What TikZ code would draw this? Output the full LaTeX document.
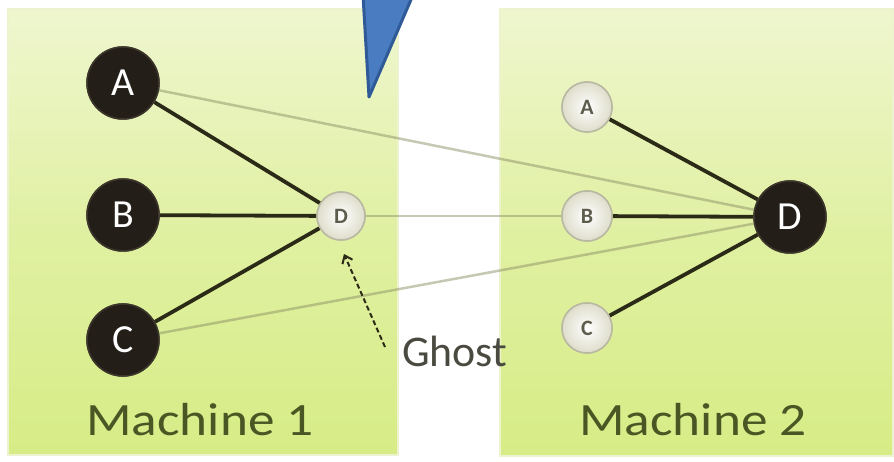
\documentclass[tikz,border=0pt]{standalone}
\usepackage{fontspec}
\setmainfont{Carlito}
\usetikzlibrary{arrows.meta}
\definecolor{boxtop}{HTML}{EFF6CF}
\definecolor{boxmid}{HTML}{E0F0A2}
\definecolor{boxbot}{HTML}{D7EC86}
\definecolor{boxedge}{HTML}{EEF3CF}
\definecolor{nodeblack}{HTML}{231E18}
\definecolor{nodeedge}{HTML}{3C362B}
\definecolor{darkline}{HTML}{2B2A17}
\definecolor{lightline}{HTML}{8E9268}
\definecolor{ghostedge}{HTML}{B9B8A2}
\definecolor{ghostfill}{HTML}{DEDDCB}
\definecolor{ghosttext}{HTML}{5E5C4C}
\definecolor{labeltext}{HTML}{4A5724}
\definecolor{ghostlabel}{HTML}{4A4A40}
\definecolor{triblue}{HTML}{4A7CC2}
\definecolor{triedge}{HTML}{2F5A97}
\tikzset{
  machinebox/.style={draw=boxedge, line width=2bp, top color=boxtop, bottom color=boxbot, middle color=boxmid},
  bignode/.style={circle, minimum size=72bp, inner sep=0pt, fill=nodeblack, draw=nodeedge, line width=1.5bp,
    text=white, font=\fontsize{40}{44}\selectfont},
  ghostnode/.style={circle, minimum size=48bp, inner sep=0pt, inner color=white, outer color=ghostfill,
    draw=ghostedge, line width=1.5bp, text=ghosttext, font=\fontsize{22}{24}\selectfont\bfseries},
  smallnode/.style={ghostnode, minimum size=50bp},
  strong/.style={draw=darkline, line width=3.8bp},
  weak/.style={draw=lightline, line width=2.5bp, draw opacity=0.5},
  machinelabel/.style={text=labeltext, font=\fontsize{46.5}{50}\selectfont, anchor=base, inner sep=0pt},
}
\begin{document}
\begin{tikzpicture}[x=1bp, y=-1bp]
\useasboundingbox (0,0) rectangle (894,462);
\clip (0,0) rectangle (894,462);
\fill[white] (0,0) rectangle (894,462);
% machine boxes
\path[machinebox] (8,9) rectangle (398,455);
\path[machinebox] (500,9) rectangle (893,456);
% nodes (positions)
\node[bignode] (a1) at (123,83) {A};
\node[bignode] (b1) at (123,215) {B};
\node[bignode] (c1) at (123,340) {C};
\node[ghostnode] (d1) at (341,216) {D};
\node[smallnode] (a2) at (587,107) {A};
\node[smallnode] (b2) at (587,216) {B};
\node[smallnode] (c2) at (587,328) {C};
\node[bignode] (d2) at (790,217) {D};
% cross-machine (weak) edges
\draw[weak] (a1) -- (d2);
\draw[weak] (d1) -- (b2);
\draw[weak] (c1) -- (d2);
% local (strong) edges
\draw[strong] (a1) -- (d1);
\draw[strong] (b1) -- (d1);
\draw[strong] (c1) -- (d1);
\draw[strong] (a2) -- (d2);
\draw[strong] (b2) -- (d2);
\draw[strong] (c2) -- (d2);
% redraw nodes on top of edges
\node[bignode] at (a1) {A};
\node[bignode] at (b1) {B};
\node[bignode] at (c1) {C};
\node[ghostnode] at (d1) {D};
\node[smallnode] at (a2) {A};
\node[smallnode] at (b2) {B};
\node[smallnode] at (c2) {C};
\node[bignode] at (d2) {D};
% ghost label and arrow
\node[text=ghostlabel, font=\fontsize{44}{48}\selectfont, anchor=base west, inner sep=0pt] (ghost) at (402,367) {Ghost};
\coordinate (gstart) at (385,347);
\coordinate (gtip) at (344,254);
\draw[darkline, line width=2bp, dash pattern=on 5bp off 3bp, -{Straight Barb[length=7bp, width=11bp]}] (gstart) -- (gtip);
% machine labels
\node[machinelabel] (m1) at (200,435) {\scalebox{1.15}[1]{Machine 1}};
\node[machinelabel] (m2) at (693,435) {\scalebox{1.15}[1]{Machine 2}};
% blue triangle
\draw[fill=triblue, draw=triedge, line width=3bp, line join=round] (363,-5) -- (413,-5) -- (369,97) -- cycle;
\end{tikzpicture}
\end{document}
